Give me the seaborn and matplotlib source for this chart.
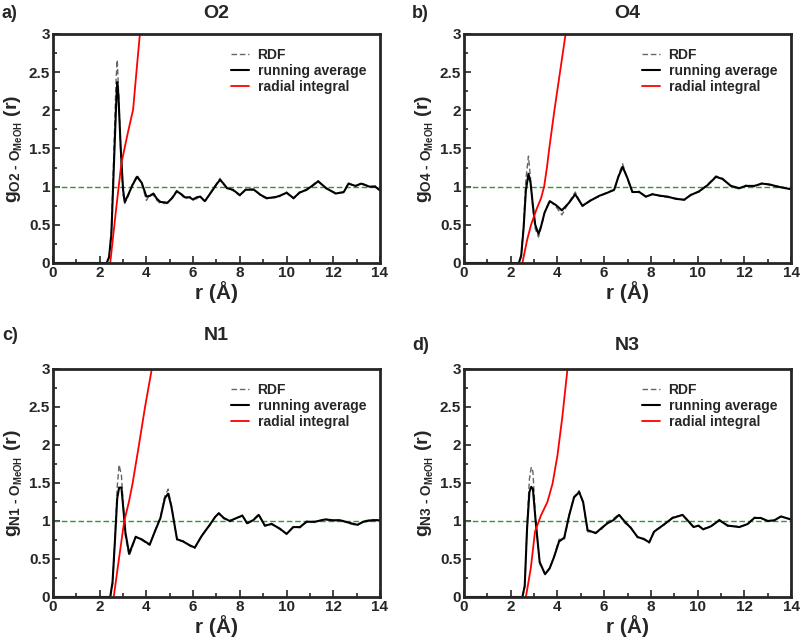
import numpy as np
import pandas as pd
import matplotlib
matplotlib.use("Agg")
import matplotlib.pyplot as plt
import seaborn as sns
from matplotlib.ticker import MultipleLocator

sns.set_style("ticks")
plt.rcParams["font.family"] = ["Liberation Sans", "DejaVu Sans"]
plt.rcParams["font.weight"] = "bold"
plt.rcParams["mathtext.fontset"] = "custom"
plt.rcParams["mathtext.rm"] = "Liberation Sans:bold"
plt.rcParams["mathtext.it"] = "Liberation Sans:bold"
plt.rcParams["mathtext.bf"] = "Liberation Sans:bold"

# ---- panel a) O2 ----
r_a = [0.0, 2.3, 2.4, 2.5, 2.6, 2.7, 2.75, 2.8, 2.9, 3.0, 3.07, 3.2, 3.4, 3.6, 3.8, 4.0, 4.15,
       4.3, 4.45, 4.6, 4.9, 5.1, 5.3, 5.5, 5.65, 5.85, 6.0, 6.15, 6.3, 6.5, 6.8, 7.0, 7.15, 7.3,
       7.45, 7.7, 8.0, 8.25, 8.6, 8.9, 9.15, 9.5, 9.7, 10.0, 10.3, 10.55, 10.85, 11.1, 11.35,
       11.7, 12.1, 12.45, 12.65, 12.95, 13.2, 13.55, 13.8, 14.0]
avg_a = [0, 0, 0.08, 0.38, 1.22, 2.05, 2.37, 2.2, 1.5, 0.96, 0.80, 0.88, 1.02, 1.13, 1.05, 0.87,
         0.88, 0.91, 0.84, 0.80, 0.79, 0.85, 0.94, 0.90, 0.86, 0.86, 0.83, 0.86, 0.87, 0.81, 0.94,
         1.03, 1.09, 1.04, 0.98, 0.96, 0.89, 0.96, 0.96, 0.89, 0.85, 0.86, 0.88, 0.92, 0.85, 0.92,
         0.96, 1.01, 1.07, 0.98, 0.91, 0.93, 1.04, 1.01, 1.04, 1.0, 1.0, 0.95]
rdf_a = [0, 0, 0.05, 0.45, 1.4, 2.4, 2.66, 2.3, 1.45, 0.9, 0.78, 0.86, 1.03, 1.15, 1.04, 0.82,
         0.90, 0.89, 0.82, 0.78, 0.78, 0.86, 0.95, 0.89, 0.84, 0.87, 0.85, 0.84, 0.88, 0.80, 0.95,
         1.04, 1.11, 1.03, 0.99, 0.95, 0.88, 0.97, 0.97, 0.88, 0.84, 0.87, 0.87, 0.93, 0.84, 0.93,
         0.95, 1.02, 1.08, 0.97, 0.92, 0.92, 1.05, 1.00, 1.05, 1.0, 1.01, 0.95]
ri_r_a = [2.45, 2.7, 2.93, 3.2, 3.43, 3.6, 3.72, 3.85]
ri_a = [0, 0.7, 1.31, 1.7, 2.01, 2.6, 3.0, 3.45]

# ---- panel b) O4 ----
r_b = [0.0, 2.35, 2.45, 2.55, 2.65, 2.76, 2.85, 2.95, 3.05, 3.19, 3.3, 3.45, 3.67, 3.93, 4.19,
       4.5, 4.76, 5.07, 5.43, 5.79, 6.14, 6.43, 6.61, 6.79, 7.0, 7.21, 7.5, 7.79, 8.07, 8.43,
       8.71, 9.07, 9.43, 9.71, 10.07, 10.43, 10.79, 11.07, 11.43, 11.79, 12.07, 12.43, 12.76,
       13.07, 13.43, 13.93, 14.0]
avg_b = [0, 0, 0.1, 0.45, 0.95, 1.17, 1.05, 0.75, 0.5, 0.38, 0.48, 0.66, 0.81, 0.76, 0.69, 0.79,
         0.90, 0.75, 0.82, 0.88, 0.92, 0.96, 1.13, 1.26, 1.11, 0.93, 0.93, 0.87, 0.90, 0.88, 0.87,
         0.84, 0.83, 0.89, 0.94, 1.02, 1.13, 1.10, 1.01, 0.98, 1.01, 1.01, 1.04, 1.03, 1.0, 0.97,
         0.97]
rdf_b = [0, 0, 0.08, 0.5, 1.1, 1.40, 1.1, 0.72, 0.45, 0.34, 0.46, 0.66, 0.82, 0.74, 0.63, 0.80,
         0.93, 0.74, 0.83, 0.87, 0.93, 0.95, 1.14, 1.30, 1.10, 0.92, 0.94, 0.86, 0.91, 0.87, 0.86,
         0.85, 0.82, 0.90, 0.93, 1.03, 1.14, 1.11, 1.00, 0.97, 1.02, 1.00, 1.05, 1.02, 1.01, 0.97,
         0.97]
ri_r_b = [2.5, 2.7, 2.87, 3.1, 3.3, 3.43, 3.55, 3.65, 3.87, 4.11, 4.35, 4.5]
ri_b = [0, 0.3, 0.5, 0.7, 0.85, 1.0, 1.25, 1.5, 2.0, 2.5, 3.0, 3.3]

# ---- panel c) N1 ----
r_c = [0.0, 2.45, 2.55, 2.65, 2.75, 2.83, 2.93, 3.0, 3.1, 3.26, 3.4, 3.54, 3.79, 4.14, 4.36,
       4.6, 4.79, 4.93, 5.07, 5.31, 5.57, 5.86, 6.07, 6.36, 6.71, 6.96, 7.1, 7.31, 7.57, 7.86,
       8.11, 8.31, 8.57, 8.81, 9.07, 9.36, 9.71, 10.0, 10.29, 10.57, 10.86, 11.21, 11.64, 12.0,
       12.29, 12.64, 13.03, 13.29, 13.64, 14.0]
avg_c = [0, 0, 0.2, 0.73, 1.3, 1.44, 1.44, 1.2, 0.85, 0.57, 0.68, 0.79, 0.76, 0.69, 0.86, 1.04,
         1.30, 1.36, 1.19, 0.76, 0.73, 0.68, 0.65, 0.80, 0.95, 1.06, 1.10, 1.04, 1.0, 1.04, 1.07,
         0.97, 1.01, 1.08, 0.94, 0.96, 0.90, 0.83, 0.92, 0.92, 0.99, 0.99, 1.02, 1.01, 1.01, 0.98,
         0.95, 0.99, 1.01, 1.01]
rdf_c = [0, 0, 0.15, 0.75, 1.45, 1.74, 1.6, 1.25, 0.8, 0.54, 0.66, 0.80, 0.75, 0.68, 0.87, 1.05,
         1.33, 1.42, 1.2, 0.75, 0.74, 0.67, 0.64, 0.81, 0.94, 1.07, 1.11, 1.03, 1.01, 1.03, 1.08,
         0.96, 1.02, 1.09, 0.93, 0.97, 0.89, 0.83, 0.93, 0.91, 1.0, 0.98, 1.03, 1.0, 1.02, 0.97,
         0.94, 1.0, 1.02, 1.01]
ri_r_c = [2.6, 2.8, 3.05, 3.25, 3.41, 3.68, 3.94, 4.23, 4.4]
ri_c = [0, 0.45, 1.0, 1.25, 1.5, 2.0, 2.5, 3.0, 3.3]

# ---- panel d) N3 ----
r_d = [0.0, 2.5, 2.6, 2.7, 2.8, 2.88, 2.95, 3.07, 3.24, 3.47, 3.67, 3.86, 4.07, 4.29, 4.5, 4.71,
       4.93, 5.1, 5.29, 5.64, 5.86, 6.14, 6.39, 6.64, 6.89, 7.14, 7.43, 7.71, 7.93, 8.14, 8.5,
       8.93, 9.36, 9.57, 9.83, 10.04, 10.24, 10.57, 10.93, 11.29, 11.79, 12.14, 12.43, 12.71,
       13.0, 13.29, 13.57, 14.0]
avg_d = [0, 0, 0.15, 0.9, 1.38, 1.45, 1.42, 0.99, 0.46, 0.30, 0.38, 0.53, 0.73, 0.78, 1.07, 1.31,
         1.38, 1.25, 0.88, 0.84, 0.90, 0.97, 1.01, 1.08, 0.99, 0.91, 0.79, 0.76, 0.72, 0.86, 0.94,
         1.04, 1.08, 1.01, 0.92, 0.94, 0.89, 0.93, 1.01, 0.94, 0.92, 0.96, 1.04, 1.04, 1.0, 1.01,
         1.06, 1.02]
rdf_d = [0, 0, 0.12, 0.95, 1.55, 1.71, 1.65, 1.0, 0.44, 0.30, 0.37, 0.54, 0.76, 0.75, 1.08, 1.32,
         1.40, 1.24, 0.86, 0.85, 0.88, 0.99, 1.03, 1.09, 0.97, 0.92, 0.78, 0.77, 0.71, 0.87, 0.93,
         1.05, 1.08, 1.0, 0.93, 0.93, 0.90, 0.92, 1.02, 0.93, 0.93, 0.95, 1.05, 1.03, 1.01, 1.0,
         1.06, 1.02]
ri_r_d = [2.65, 2.86, 3.04, 3.29, 3.57, 3.79, 4.0, 4.21, 4.43, 4.55]
ri_d = [0, 0.38, 0.86, 1.07, 1.25, 1.49, 1.86, 2.37, 3.0, 3.4]

panels = [
    ("a)", "O2", r_a, avg_a, rdf_a, ri_r_a, ri_a),
    ("b)", "O4", r_b, avg_b, rdf_b, ri_r_b, ri_b),
    ("c)", "N1", r_c, avg_c, rdf_c, ri_r_c, ri_c),
    ("d)", "N3", r_d, avg_d, rdf_d, ri_r_d, ri_d),
]

W, H = 800, 637
fig = plt.figure(figsize=(W / 100, H / 100), dpi=100)

# axes boxes in pixels: left, top, right, bottom
boxes = [(53, 34, 380, 263), (464, 34, 791, 263), (53, 369, 380, 597), (464, 369, 791, 597)]
title_y = [13, 13, 335, 345]
label_x = [2, 412, 2, 412]

for (tag, site, r, avg, rdf, rr, ri), (l, t, rt, b), ty, lx in zip(panels, boxes, title_y, label_x):
    ax = fig.add_axes([l / W, 1 - b / H, (rt - l) / W, (b - t) / H])

    sns.lineplot(x=r, y=rdf, ax=ax, color="#666666", lw=1.0, linestyle=(0, (4, 2)),
                 estimator=None, sort=False, label="RDF")
    sns.lineplot(x=r, y=avg, ax=ax, color="black", lw=1.5,
                 estimator=None, sort=False, label="running average")
    sns.lineplot(x=rr, y=ri, ax=ax, color="#ff0000", lw=1.3,
                 estimator=None, sort=False, label="radial integral")
    ax.axhline(1.0, color="#2e9a2e", lw=1.0, linestyle=(0, (4, 2)), zorder=1)

    ax.set_xlim(0, 14)
    ax.set_ylim(0, 3)
    ax.xaxis.set_major_locator(MultipleLocator(2))
    ax.xaxis.set_minor_locator(MultipleLocator(1))
    ax.yaxis.set_major_locator(MultipleLocator(0.5))
    ax.yaxis.set_minor_locator(MultipleLocator(0.25))
    ax.set_yticks([0, 0.5, 1, 1.5, 2, 2.5, 3])
    ax.set_yticklabels(["0", "0.5", "1", "1.5", "2", "2.5", "3"])
    ax.tick_params(which="both", direction="in", labelsize=11, width=1.2, pad=2)
    ax.tick_params(which="major", length=5)
    ax.tick_params(which="minor", length=3)
    for lab in ax.get_xticklabels() + ax.get_yticklabels():
        lab.set_fontweight("bold")
    for sp in ax.spines.values():
        sp.set_linewidth(2)

    ax.set_xlabel("r (Å)", fontsize=15, fontweight="bold", labelpad=1)
    ax.set_ylabel(r"$g_{\text{%s - O}_{MeOH}}$ (r)" % site, fontsize=14, fontweight="bold",
                  labelpad=3)

    leg = ax.legend(loc="upper right", frameon=False, fontsize=10, handlelength=1.3,
                    handletextpad=0.6, labelspacing=0.15, borderaxespad=0.6)
    for txt in leg.get_texts():
        txt.set_fontweight("bold")

    fig.text((l + rt) / 2 / W, 1 - ty / H, site, ha="center", va="center",
             fontsize=14, fontweight="bold")
    fig.text(lx / W, 1 - ty / H, tag, ha="left", va="center", fontsize=13, fontweight="bold")

fig.savefig("out.png", dpi=100)
